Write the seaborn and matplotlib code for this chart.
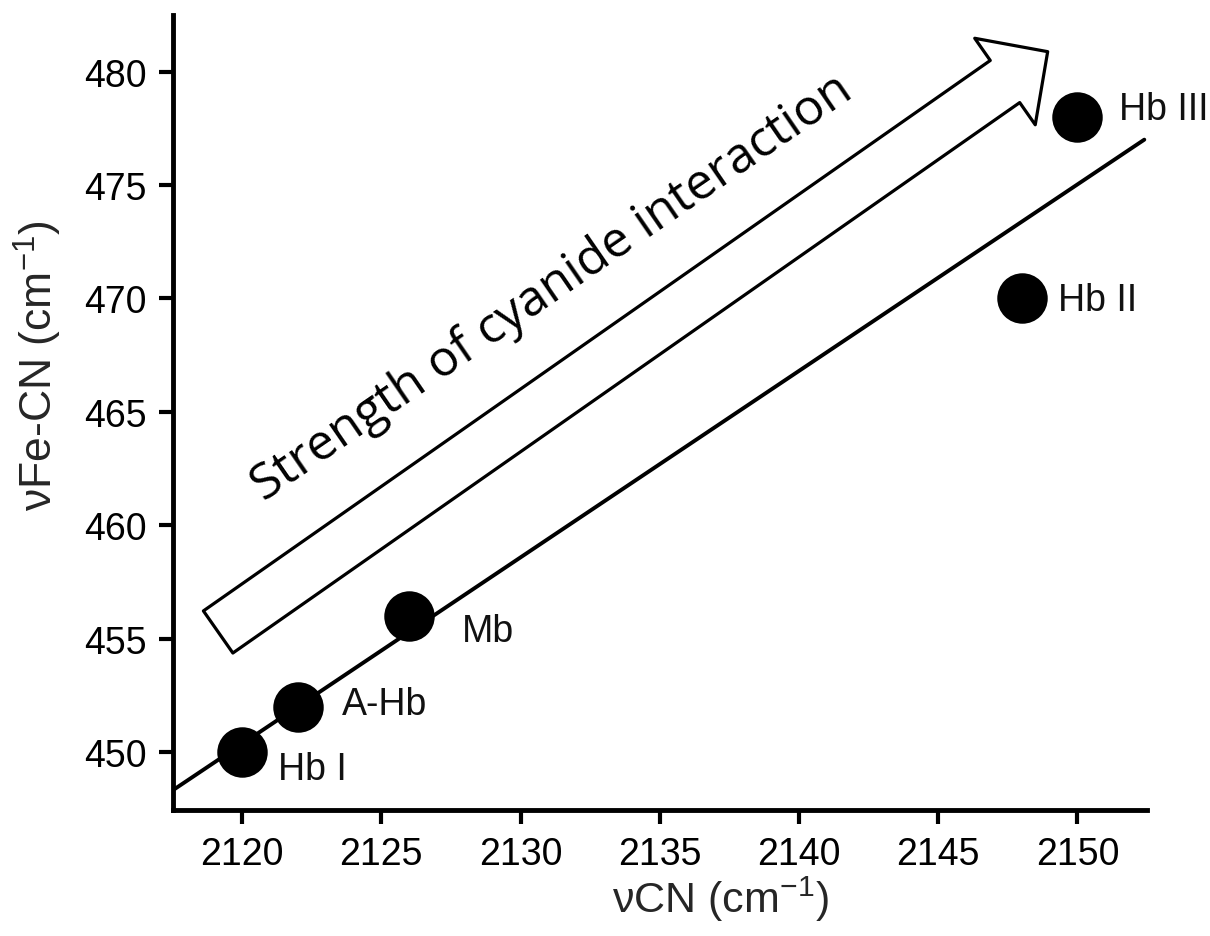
import matplotlib
matplotlib.use("Agg")
import matplotlib.pyplot as plt
from matplotlib.patches import FancyArrowPatch, ArrowStyle
import seaborn as sns
import pandas as pd

# Cyanide-bound heme proteins: C-N stretch vs Fe-CN stretch
proteins = ["Hb I", "A-Hb", "Mb", "Hb II", "Hb III"]
nu_cn = [2120, 2122, 2126, 2148, 2150]
nu_fecn = [450, 452, 456, 470, 478]

# Correlation line drawn across the plot
trend_cn = [2117.5, 2152.4]
trend_fecn = [448.3, 477.0]

x_ticks = [2120, 2125, 2130, 2135, 2140, 2145, 2150]
y_ticks = [450, 455, 460, 465, 470, 475, 480]

# label offsets (points) relative to each marker
label_offsets = {"Hb I": (26, -12), "A-Hb": (32, 2), "Mb": (38, -11),
                 "Hb II": (26, -1), "Hb III": (30, 6)}

sns.set_theme(style="ticks")
plt.rcParams["font.family"] = ["Liberation Sans", "DejaVu Sans"]
plt.rcParams["mathtext.default"] = "regular"

df = pd.DataFrame({"protein": proteins, "nu_cn": nu_cn, "nu_fecn": nu_fecn})
trend = pd.DataFrame({"nu_cn": trend_cn, "nu_fecn": trend_fecn})

fig = plt.figure(figsize=(12.1, 9.37), dpi=100)
ax = fig.add_axes([0.143, 0.1345, 0.805, 0.8485])

sns.lineplot(data=trend, x="nu_cn", y="nu_fecn", color="black", lw=2.8,
             ax=ax, zorder=2)
sns.scatterplot(data=df, x="nu_cn", y="nu_fecn", s=1320, color="black",
                edgecolor="black", linewidth=0, ax=ax, zorder=3, legend=False)

for name, xv, yv in zip(proteins, nu_cn, nu_fecn):
    dx, dy = label_offsets[name]
    ax.annotate(name, (xv, yv), xytext=(dx, dy), textcoords="offset points",
                ha="left", va="center", fontsize=27, color="#111111")

# hollow arrow indicating increasing interaction strength
arrow = FancyArrowPatch(
    posA=(2119.14, 455.29), posB=(2148.93, 480.88),
    arrowstyle=ArrowStyle.Simple(head_length=37.5, head_width=76, tail_width=37),
    mutation_scale=1, shrinkA=0, shrinkB=0,
    facecolor="white", edgecolor="black", lw=2.3, zorder=1)
ax.add_patch(arrow)
ax.text(2131.4, 470.0, "Strength of cyanide interaction", rotation=34.5,
        rotation_mode="anchor", ha="center", va="baseline", fontsize=36,
        family=["Open Sans", "DejaVu Sans"], color="black")

ax.set_xlim(2117.52, 2152.5)
ax.set_ylim(447.44, 482.5)
ax.set_xticks(x_ticks)
ax.set_yticks(y_ticks)
ax.tick_params(axis="both", direction="out", length=10, width=3,
               labelsize=27, colors="black")
ax.tick_params(axis="x", pad=9)
ax.tick_params(axis="y", pad=9)

for side in ("top", "right"):
    ax.spines[side].set_visible(False)
for side in ("left", "bottom"):
    ax.spines[side].set_linewidth(3.5)
    ax.spines[side].set_color("black")

ax.set_xlabel("νCN (cm$^{-1}$)", fontsize=31)
ax.set_ylabel("νFe-CN (cm$^{-1}$)", fontsize=32)
ax.xaxis.set_label_coords(0.5616, -0.08)
ax.yaxis.set_label_coords(-0.112, 0.56)

fig.savefig("out.png", dpi=100, facecolor="white")
